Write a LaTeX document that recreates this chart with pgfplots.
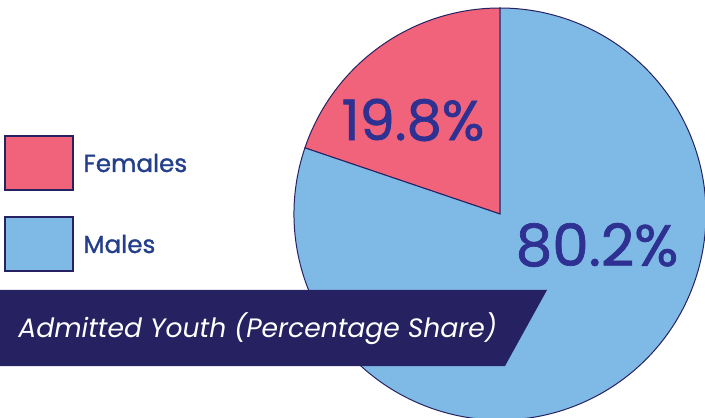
\documentclass[border=0pt]{standalone}
\usepackage{pgfplots}
\pgfplotsset{compat=1.18}
\usepackage{fontspec}
\setmainfont{Poppins}
\newfontfamily\pmed[FakeBold=1.2]{Poppins}

\definecolor{femc}{HTML}{F0637A}
\definecolor{malec}{HTML}{7FB9E5}
\definecolor{navy}{HTML}{262262}
\definecolor{labc}{HTML}{2E3192}
\definecolor{legc}{HTML}{233E8B}

% shares in percent
\def\females{19.8}
\def\males{80.2}

\begin{document}
\begin{tikzpicture}
\begin{axis}[
    width=352.5pt, height=208.5pt,
    scale only axis,
    xmin=0, xmax=705,
    ymin=0, ymax=417,
    hide axis,
    clip=true,
]
\pgfmathsetmacro{\fend}{90+3.6*\females}
\pgfmathsetmacro{\mend}{\fend+3.6*\males}
% pie
\fill[femc, draw=navy, line width=0.5pt] (axis cs:500,203) -- ++(90:103pt)
    arc[start angle=90, end angle=\fend, radius=103pt] -- cycle;
\fill[malec, draw=navy, line width=0.5pt] (axis cs:500,203) -- ++(\fend:103pt)
    arc[start angle=\fend, end angle=\mend, radius=103pt] -- cycle;
\node[text=labc, font=\fontsize{28}{30}\selectfont\pmed] at (axis cs:413,297) {\females\%};
\node[text=labc, font=\fontsize{29}{30}\selectfont\pmed] at (axis cs:597,172) {\males\%};
% legend
\draw[fill=femc, draw=navy, line width=0.6pt] (axis cs:5,227) rectangle (axis cs:73,281);
\draw[fill=malec, draw=navy, line width=0.6pt] (axis cs:5,146) rectangle (axis cs:73,200);
\node[anchor=west, inner sep=0pt, text=legc, font=\fontsize{12.3}{15}\selectfont\pmed] at (axis cs:83,254) {Females};
\node[anchor=west, inner sep=0pt, text=legc, font=\fontsize{12.3}{15}\selectfont\pmed] at (axis cs:83,173) {Males};
% banner
\fill[navy] (axis cs:0,127) -- (axis cs:547,127) -- (axis cs:505,51) -- (axis cs:0,51) -- cycle;
\node[anchor=west, inner sep=0pt, text=white, font=\fontsize{13.3}{18}\selectfont\itshape] at (axis cs:18,88) {Admitted Youth (Percentage Share)};
\coordinate (sw) at (axis cs:0,0);
\coordinate (ne) at (axis cs:705,417);
\end{axis}
\pgfresetboundingbox
\path[use as bounding box] (sw) rectangle (ne);
\end{tikzpicture}
\end{document}
